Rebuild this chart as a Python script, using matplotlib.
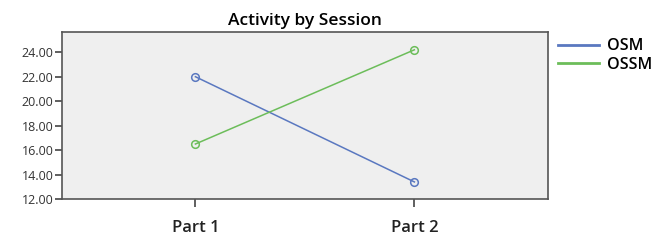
import numpy as np
import matplotlib
matplotlib.use("Agg")
import matplotlib.pyplot as plt

plt.rcParams['font.family'] = ['Open Sans', 'DejaVu Sans']

parts = ["Part 1", "Part 2"]
osm = [22.0, 13.4]
ossm = [16.5, 24.2]
yticks = [12, 14, 16, 18, 20, 22, 24]

BLUE = "#5a78c0"
GREEN = "#6cbd5a"

fig = plt.figure(figsize=(6.65, 2.41), dpi=100)
ax = fig.add_axes([0.093, 0.174, 0.731, 0.693])
ax.set_facecolor("#efefef")

x = np.arange(len(parts))
ax.plot(x, osm, "-o", color=BLUE, lw=1.1, ms=5.5, mfc="none", mew=1.1, label="OSM")
ax.plot(x, ossm, "-o", color=GREEN, lw=1.1, ms=5.5, mfc="none", mew=1.1, label="OSSM")

ax.set_xlim(-0.61, 1.61)
ax.set_ylim(12, 25.65)
ax.set_yticks(yticks)
ax.set_yticklabels([f"{v:.2f}" for v in yticks], fontsize=9, color="#333333")
ax.set_xticks(x)
ax.set_xticklabels(parts, fontsize=12, fontweight="semibold", color="#222222")
ax.tick_params(axis="x", length=6, width=1.2, pad=9, color="#444444")
ax.tick_params(axis="y", length=5, width=1.2, pad=1, color="#444444")
for s in ax.spines.values():
    s.set_color("#555555")
    s.set_linewidth(1.2)

ax.set_title("Activity by Session", fontsize=12.5, fontweight="semibold", pad=5)

leg = ax.legend(loc="upper left", bbox_to_anchor=(1.0, 1.02), frameon=False,
                prop={"weight": "semibold", "size": 11.5},
                handlelength=2.6, handletextpad=0.5, labelspacing=0.15,
                borderaxespad=0.2)
for h in leg.get_lines():
    h.set_marker("")
    h.set_linewidth(2)

fig.savefig("out.png", dpi=100)
